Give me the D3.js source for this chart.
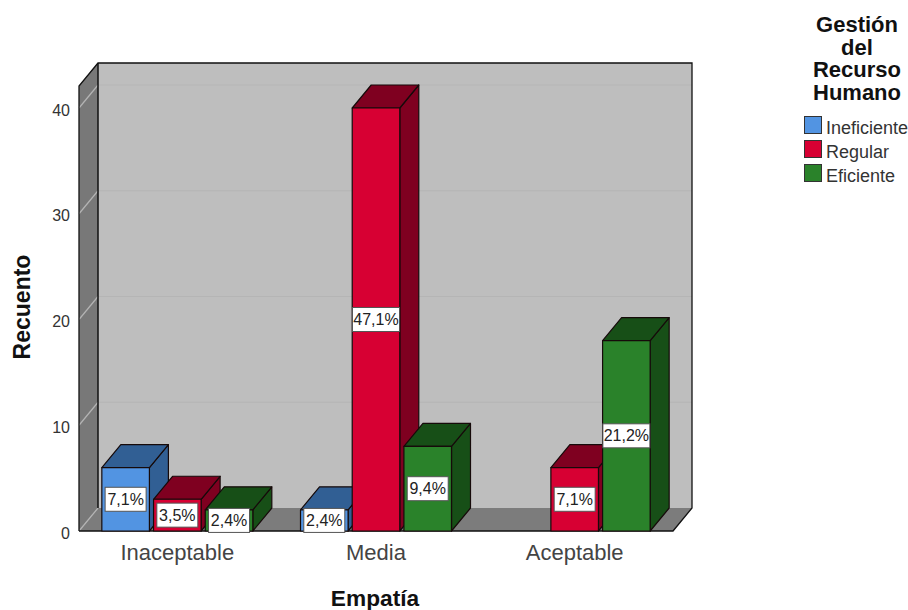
<!DOCTYPE html>
<html>
<head>
<meta charset="utf-8">
<script src="https://cdn.jsdelivr.net/npm/d3@7"></script>
<style>
    html, body { margin: 0; padding: 0; background: #fff; }
    text { font-family: "Liberation Sans", Arial, sans-serif; }
</style>
</head>
<body>
<div id="app"></div>
<script>
// counts per Empatía level, one array per Gestión level
const categories = ["Inaceptable", "Media", "Aceptable"];
const seriesNames = ["Ineficiente", "Regular", "Eficiente"];
const ineficiente = [6, 2, 0];
const regular = [3, 40, 6];
const eficiente = [2, 8, 18];
const percentLabels = [
    ["7,1%", "2,4%", ""],
    ["3,5%", "47,1%", "7,1%"],
    ["2,4%", "9,4%", "21,2%"]
];
const yTicks = [0, 10, 20, 30, 40];
const legendTitle = ["Gestión", "del", "Recurso", "Humano"];

const seriesValues = [ineficiente, regular, eficiente];
const front = ["#5294e2", "#d70033", "#2a822a"];
const shade = ["#315f94", "#7f0020", "#174f17"];

let width = 908;
let height = 610;
let depthX = 19;
let depthY = 23;

let svg = d3.select("#app")
.append("svg")
    .attr("width", width)
    .attr("height", height)
    .style("display", "block")

let y = d3.scaleLinear()
    .domain([0, 42.08])
    .range([531, 86]);

let x = d3.scaleBand()
    .domain(categories)
    .range([78, 674])
    .paddingInner(0.24)
    .paddingOuter(0.12);

let xSeries = d3.scaleBand()
    .domain(seriesNames)
    .range([0, x.bandwidth()])
    .paddingInner(0.08);

let left = 79, right = 673;
let top3d = y.range()[1], bottom = y.range()[0];

function poly(points, fill, stroke, strokeWidth) {
    return svg.append("polygon")
        .attr("points", points.map(p => p.join(",")).join(" "))
        .attr("fill", fill)
        .attr("stroke", stroke || "none")
        .attr("stroke-width", strokeWidth || 0)
        .attr("stroke-linejoin", "round");
}

// walls and floor of the box
poly([[left + depthX, top3d - depthY], [right + depthX, top3d - depthY], [right + depthX, bottom - depthY], [left + depthX, bottom - depthY]], "#bebebe");
poly([[left, top3d], [left + depthX, top3d - depthY], [left + depthX, bottom - depthY], [left, bottom]], "#787878");
poly([[left, bottom], [left + depthX, bottom - depthY], [right + depthX, bottom - depthY], [right, bottom]], "#7c7c7c");

// gridlines run along the side wall and across the back wall
let grid = svg.append("g");
yTicks.forEach(t => {
    if (t > 0) {
        grid.append("line")
            .attr("x1", left + depthX).attr("x2", right + depthX)
            .attr("y1", y(t) - depthY).attr("y2", y(t) - depthY)
            .attr("stroke", "#b5b5b5").attr("stroke-width", 1.2);
    }
    grid.append("line")
        .attr("x1", left).attr("x2", left + depthX)
        .attr("y1", y(t)).attr("y2", y(t) - depthY)
        .attr("stroke", "#b4b4b4").attr("stroke-width", 1.2);
});

// box outline
let frame = d3.line();
svg.append("path")
    .attr("d", frame([[left, bottom], [left, top3d], [left + depthX, top3d - depthY], [right + depthX, top3d - depthY], [right + depthX, bottom - depthY], [right, bottom], [left, bottom]]))
    .attr("fill", "none").attr("stroke", "#111").attr("stroke-width", 1.3);
svg.append("path")
    .attr("d", frame([[left + depthX, top3d - depthY], [left + depthX, bottom - depthY]]))
    .attr("fill", "none").attr("stroke", "#111").attr("stroke-width", 1.5);

// bars, drawn left to right so later bars hide the sides of earlier ones
categories.forEach((cat, c) => {
    seriesNames.forEach((name, s) => {
        let value = seriesValues[s][c];
        if (value === 0) return;
        let x0 = x(cat) + xSeries(name);
        let x1 = x0 + xSeries.bandwidth();
        let yTop = y(value);
        let line = "#160a0a";
        poly([[x1, yTop], [x1 + depthX, yTop - depthY], [x1 + depthX, bottom - depthY], [x1, bottom]], shade[s], line, 1.2);
        poly([[x0, yTop], [x0 + depthX, yTop - depthY], [x1 + depthX, yTop - depthY], [x1, yTop]], shade[s], line, 1.2);
        poly([[x0, yTop], [x1, yTop], [x1, bottom], [x0, bottom]], front[s], line, 1.2);
    });
});

// percentage boxes sit on top of every bar
categories.forEach((cat, c) => {
    seriesNames.forEach((name, s) => {
        let value = seriesValues[s][c];
        if (value === 0) return;
        let cx = x(cat) + xSeries(name) + xSeries.bandwidth() / 2;
        let cy = (y(value) + bottom) / 2;
        let label = percentLabels[s][c];
        let boxW = label.length > 4 ? 47 : 41;
        svg.append("rect")
            .attr("x", cx - boxW / 2).attr("y", cy - 12)
            .attr("width", boxW).attr("height", 24)
            .attr("fill", "#fff").attr("stroke", "#555").attr("stroke-width", 1);
        svg.append("text")
            .attr("x", cx).attr("y", cy + 5.5)
            .attr("text-anchor", "middle")
            .attr("font-size", 16)
            .attr("fill", "#222")
            .text(label);
    });
});

// y axis: only the labels show, placed left of the side wall
let yAxis = svg.append("g")
    .attr("transform", "translate(" + left + ",2)")
    .call(d3.axisLeft(y).tickValues(yTicks).tickSize(0).tickPadding(9));
yAxis.select(".domain").remove();
yAxis.selectAll("text")
    .attr("font-family", '"Liberation Sans", Arial, sans-serif')
    .attr("font-size", 16)
    .attr("fill", "#333");

// x axis labels
let xAxis = svg.append("g")
    .attr("transform", "translate(0," + bottom + ")")
    .call(d3.axisBottom(x).tickSize(0).tickPadding(13));
xAxis.select(".domain").remove();
xAxis.selectAll("text")
    .attr("font-family", '"Liberation Sans", Arial, sans-serif')
    .attr("font-size", 22)
    .attr("fill", "#444");

svg.append("text")
    .attr("x", 375).attr("y", 606)
    .attr("text-anchor", "middle")
    .attr("font-size", 22.7).attr("font-weight", "bold").attr("fill", "#111")
    .text("Empatía");

svg.append("text")
    .attr("transform", "translate(30,307) rotate(-90)")
    .attr("text-anchor", "middle")
    .attr("font-size", 23).attr("font-weight", "bold").attr("fill", "#111")
    .text("Recuento");

// legend
svg.selectAll(".legend-title")
    .data(legendTitle)
    .enter()
    .append("text")
        .attr("class", "legend-title")
        .attr("x", 857)
        .attr("y", (d, i) => 32 + i * 22.7)
        .attr("text-anchor", "middle")
        .attr("font-size", 22).attr("font-weight", "bold").attr("fill", "#111")
        .text(d => d);

let legendY = d3.scalePoint()
    .domain(seriesNames)
    .range([125, 173]);

let legend = svg.selectAll(".legend-item")
    .data(seriesNames)
    .enter()
    .append("g")
        .attr("class", "legend-item")
        .attr("transform", d => "translate(804," + legendY(d) + ")");
legend.append("rect")
    .attr("x", 0.5).attr("y", -8.5)
    .attr("width", 17).attr("height", 17)
    .attr("fill", (d, i) => front[i])
    .attr("stroke", "#333").attr("stroke-width", 1);
legend.append("text")
    .attr("x", 22).attr("y", 9)
    .attr("font-size", 18).attr("fill", "#333")
    .text(d => d);
</script>
</body>
</html>
